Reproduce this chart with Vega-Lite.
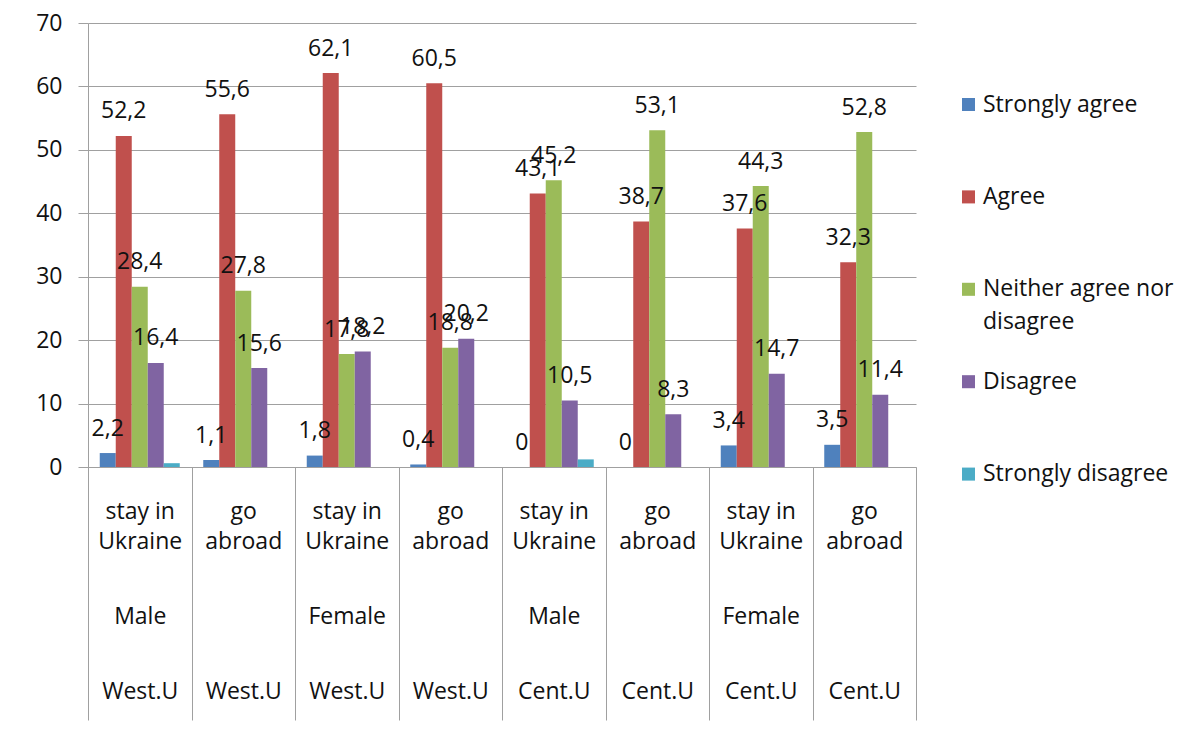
{
  "$schema": "https://vega.github.io/schema/vega-lite/v6.json",
  "width": 828,
  "height": 444,
  "autosize": {"type": "none"},
  "padding": {"left": 88, "top": 23, "right": 282, "bottom": 267},
  "background": "white",
  "data": {
    "values": [
      {"cat": "1|stay in|Ukraine|Male|West.U", "resp": "Strongly agree", "v": 2.2},
      {"cat": "1|stay in|Ukraine|Male|West.U", "resp": "Agree", "v": 52.2},
      {"cat": "1|stay in|Ukraine|Male|West.U", "resp": "Neither agree nor disagree", "v": 28.4},
      {"cat": "1|stay in|Ukraine|Male|West.U", "resp": "Disagree", "v": 16.4},
      {"cat": "1|stay in|Ukraine|Male|West.U", "resp": "Strongly disagree", "v": 0.6},
      {"cat": "2|go|abroad||West.U", "resp": "Strongly agree", "v": 1.1},
      {"cat": "2|go|abroad||West.U", "resp": "Agree", "v": 55.6},
      {"cat": "2|go|abroad||West.U", "resp": "Neither agree nor disagree", "v": 27.8},
      {"cat": "2|go|abroad||West.U", "resp": "Disagree", "v": 15.6},
      {"cat": "2|go|abroad||West.U", "resp": "Strongly disagree", "v": 0},
      {"cat": "3|stay in|Ukraine|Female|West.U", "resp": "Strongly agree", "v": 1.8},
      {"cat": "3|stay in|Ukraine|Female|West.U", "resp": "Agree", "v": 62.1},
      {"cat": "3|stay in|Ukraine|Female|West.U", "resp": "Neither agree nor disagree", "v": 17.8},
      {"cat": "3|stay in|Ukraine|Female|West.U", "resp": "Disagree", "v": 18.2},
      {"cat": "3|stay in|Ukraine|Female|West.U", "resp": "Strongly disagree", "v": 0},
      {"cat": "4|go|abroad||West.U", "resp": "Strongly agree", "v": 0.4},
      {"cat": "4|go|abroad||West.U", "resp": "Agree", "v": 60.5},
      {"cat": "4|go|abroad||West.U", "resp": "Neither agree nor disagree", "v": 18.8},
      {"cat": "4|go|abroad||West.U", "resp": "Disagree", "v": 20.2},
      {"cat": "4|go|abroad||West.U", "resp": "Strongly disagree", "v": 0},
      {"cat": "5|stay in|Ukraine|Male|Cent.U", "resp": "Strongly agree", "v": 0},
      {"cat": "5|stay in|Ukraine|Male|Cent.U", "resp": "Agree", "v": 43.1},
      {"cat": "5|stay in|Ukraine|Male|Cent.U", "resp": "Neither agree nor disagree", "v": 45.2},
      {"cat": "5|stay in|Ukraine|Male|Cent.U", "resp": "Disagree", "v": 10.5},
      {"cat": "5|stay in|Ukraine|Male|Cent.U", "resp": "Strongly disagree", "v": 1.2},
      {"cat": "6|go|abroad||Cent.U", "resp": "Strongly agree", "v": 0},
      {"cat": "6|go|abroad||Cent.U", "resp": "Agree", "v": 38.7},
      {"cat": "6|go|abroad||Cent.U", "resp": "Neither agree nor disagree", "v": 53.1},
      {"cat": "6|go|abroad||Cent.U", "resp": "Disagree", "v": 8.3},
      {"cat": "6|go|abroad||Cent.U", "resp": "Strongly disagree", "v": 0},
      {"cat": "7|stay in|Ukraine|Female|Cent.U", "resp": "Strongly agree", "v": 3.4},
      {"cat": "7|stay in|Ukraine|Female|Cent.U", "resp": "Agree", "v": 37.6},
      {"cat": "7|stay in|Ukraine|Female|Cent.U", "resp": "Neither agree nor disagree", "v": 44.3},
      {"cat": "7|stay in|Ukraine|Female|Cent.U", "resp": "Disagree", "v": 14.7},
      {"cat": "7|stay in|Ukraine|Female|Cent.U", "resp": "Strongly disagree", "v": 0},
      {"cat": "8|go|abroad||Cent.U", "resp": "Strongly agree", "v": 3.5},
      {"cat": "8|go|abroad||Cent.U", "resp": "Agree", "v": 32.3},
      {"cat": "8|go|abroad||Cent.U", "resp": "Neither agree nor disagree", "v": 52.8},
      {"cat": "8|go|abroad||Cent.U", "resp": "Disagree", "v": 11.4},
      {"cat": "8|go|abroad||Cent.U", "resp": "Strongly disagree", "v": 0}
    ]
  },
  "encoding": {
    "x": {
      "field": "cat",
      "type": "nominal",
      "sort": null,
      "scale": {"paddingInner": 0, "paddingOuter": 0},
      "axis": {
        "title": null,
        "labelAngle": 0,
        "tickBand": "extent",
        "tickSize": 253,
        "tickColor": "#a0a0a0",
        "domainColor": "#a0a0a0",
        "labelPadding": -220,
        "labelFont": "Open Sans",
        "labelFontSize": 23,
        "labelLineHeight": 15,
        "labelColor": "#111111",
        "labelBaseline": "top",
        "labelOverlap": false,
        "labelLimit": 0,
        "labelExpr": "[split(datum.label,'|')[1], '\u200b', split(datum.label,'|')[2], '\u200b', '\u200b', '\u200b', '\u200b', split(datum.label,'|')[3] || '\u200b', '\u200b', '\u200b', '\u200b', '\u200b', split(datum.label,'|')[4]]"
      }
    },
    "xOffset": {
      "field": "resp",
      "type": "nominal",
      "sort": ["Strongly agree", "Agree", "Neither agree nor disagree", "Disagree", "Strongly disagree"],
      "scale": {"paddingInner": 0, "paddingOuter": 0.734}
    },
    "y": {
      "field": "v",
      "type": "quantitative",
      "scale": {"domain": [0, 70], "nice": false},
      "axis": {
        "title": null,
        "values": [0, 10, 20, 30, 40, 50, 60, 70],
        "grid": true,
        "gridColor": "#a0a0a0",
        "domainColor": "#a0a0a0",
        "tickColor": "#a0a0a0",
        "tickSize": 10,
        "labelPadding": 16,
        "labelFont": "Open Sans",
        "labelFontSize": 23,
        "labelColor": "#111111"
      }
    }
  },
  "layer": [
    {
      "mark": {"type": "bar"},
      "encoding": {
        "color": {
          "field": "resp",
          "type": "nominal",
          "scale": {
            "domain": ["Strongly agree", "Agree", "Neither agree nor disagree", "Disagree", "Strongly disagree"],
            "range": ["#4F81BD", "#C0504D", "#9BBB59", "#8064A2", "#4BACC6"]
          },
          "legend": {
            "title": null,
            "orient": "none",
            "legendX": 869,
            "legendY": 70,
            "symbolType": "square",
            "symbolSize": 170,
            "symbolStrokeWidth": 0,
            "labelFont": "Open Sans",
            "labelFontSize": 23,
            "labelOffset": 3,
            "labelColor": "#111111",
            "labelLimit": 0,
            "rowPadding": 35.4,
            "padding": 0,
            "labelExpr": "datum.label == 'Neither agree nor disagree' ? ['Neither agree nor', 'disagree'] : [datum.label, '\u00a0']",
            "encode": {"labels": {"update": {"lineHeight": {"value": 33}}}}
          }
        }
      }
    },
    {
      "transform": [{"filter": "datum.resp != 'Strongly disagree'"}],
      "mark": {"type": "text", "baseline": "alphabetic", "dy": -17.5, "font": "Open Sans", "fontSize": 23, "color": "#111111"},
      "encoding": {"text": {"field": "v", "type": "quantitative", "format": ".1~f"}}
    }
  ],
  "config": {
    "locale": {"number": {"decimal": ",", "thousands": " ", "grouping": [3], "currency": ["", ""]}},
    "view": {"stroke": null}
  }
}
